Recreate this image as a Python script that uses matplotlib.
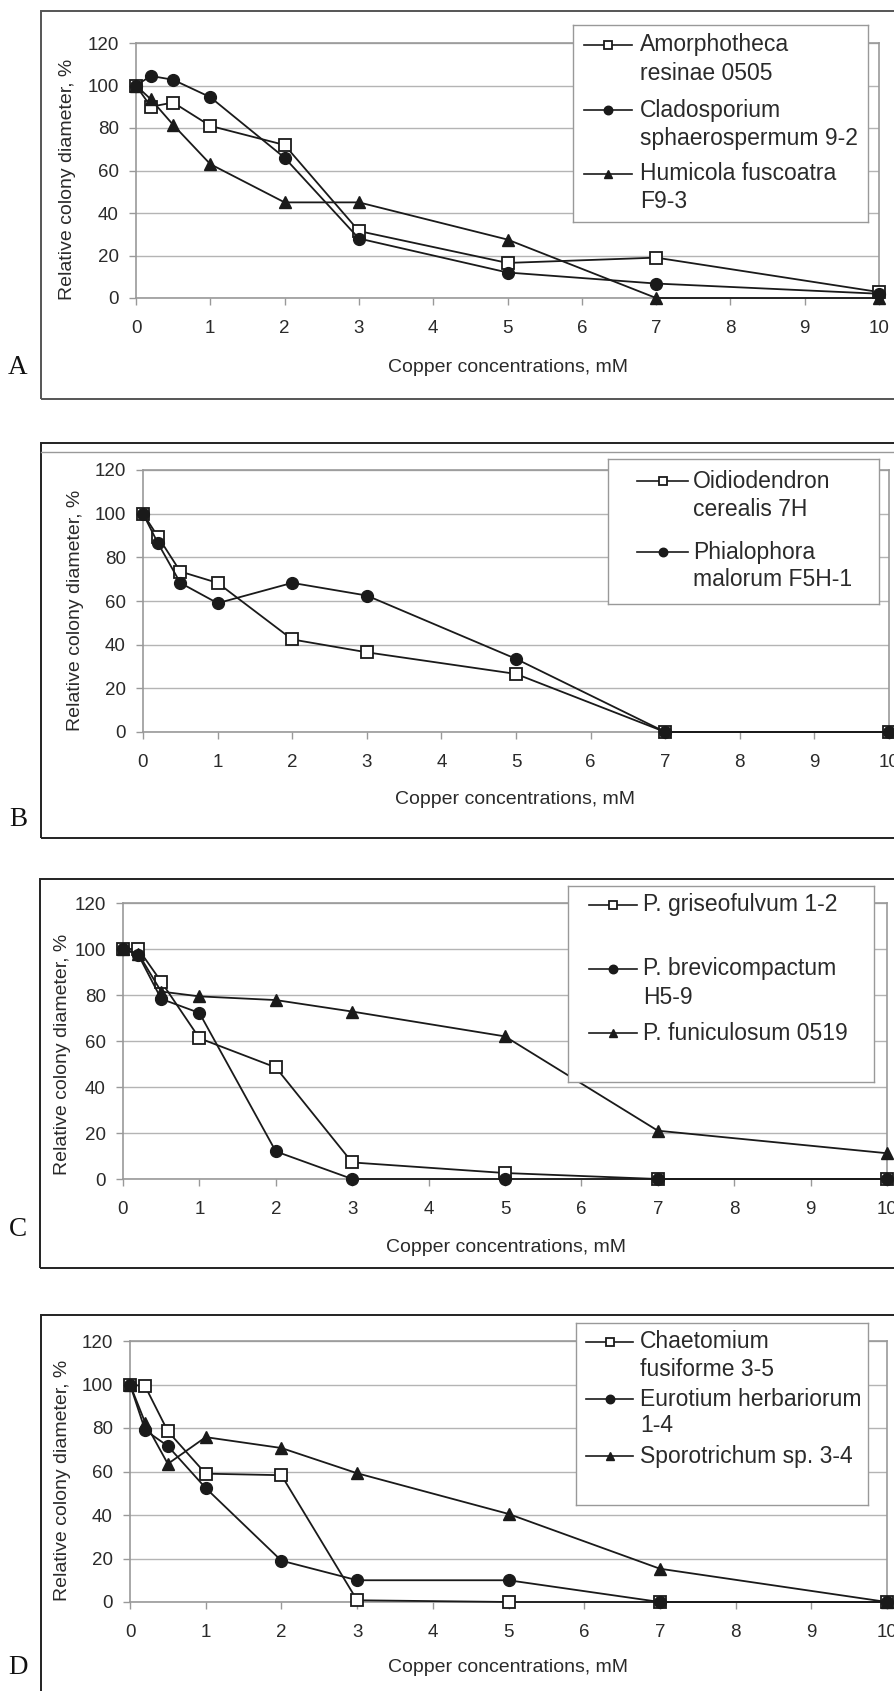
import numpy as np
import matplotlib
matplotlib.use("Agg")
import matplotlib.pyplot as plt
from matplotlib.patches import Rectangle
from matplotlib.lines import Line2D

plt.rcParams['font.family'] = ['Liberation Sans', 'DejaVu Sans']

# copper concentration, mM (same for every panel)
conc = [0, 0.2, 0.5, 1, 2, 3, 5, 7, 10]

# panel A
amorphotheca = [100, 90, 92, 81, 72, 31.5, 16.5, 19, 2.8]
cladosporium = [100, 104.5, 102.7, 94.5, 66, 28, 12, 6.8, 2]
humicola = [100, 93.5, 81.5, 63, 45, 45, 27.5, 0, 0]

# panel B
oidiodendron = [100, 89.5, 73.5, 68.3, 42.4, 36.5, 26.6, 0, 0]
phialophora = [100, 86.5, 68.3, 59, 68.3, 62.5, 33.5, 0, 0]

# panel C
griseofulvum = [100, 100, 85.8, 61.2, 48.5, 7.2, 2.6, 0, 0]
brevicompactum = [100, 97.5, 78.3, 72.2, 12, 0, 0, 0, 0]
funiculosum = [100, 98, 81.5, 79.4, 77.8, 72.8, 62, 21, 11.2]

# panel D
chaetomium = [100, 99.2, 78.5, 59, 58.3, 0.8, 0, 0, 0]
eurotium = [100, 79, 71.7, 52.4, 19, 10, 10, 0, 0]
sporotrichum = [100, 82.5, 63.5, 75.8, 70.8, 59.2, 40.5, 15.3, 0]

xticks = list(range(0, 11))
yticks = list(range(0, 121, 20))
xlabel = "Copper concentrations, mM"
ylabel = "Relative colony diameter, %"

W, H = 894, 1691
fig = plt.figure(figsize=(W / 100, H / 100), dpi=100)

LC = '#1a1a1a'
styles = {
    's': dict(marker='s', ms=8, mfc='white', mec=LC, mew=1.3),
    'o': dict(marker='o', ms=8.5, mfc=LC, mec=LC, mew=1),
    '^': dict(marker='^', ms=8.5, mfc=LC, mec=LC, mew=1),
}

panels = [
    dict(letter='A', frame=(41, 11, 399), ax=(136, 43, 879, 298),
         leg=(573, 25, 868, 222), hl=(11, 59, 67), rows=[20, 85, 149], dy=28,
         ylab=(68, 179), xlab=(508, 367), let=(18, 368), fc='#555555',
         series=[(amorphotheca, 's', ["Amorphotheca", "resinae 0505"]),
                 (cladosporium, 'o', ["Cladosporium", "sphaerospermum 9-2"]),
                 (humicola, '^', ["Humicola fuscoatra", "F9-3"])]),
    dict(letter='B', frame=(41, 443, 838), ax=(143, 470, 889, 732),
         leg=(608, 459, 879, 604), hl=(29, 80, 85), rows=[22, 93], dy=28,
         ylab=(75, 610), xlab=(515, 800), let=(18, 820), fc='#222222',
         series=[(oidiodendron, 's', ["Oidiodendron", "cerealis 7H"]),
                 (phialophora, 'o', ["Phialophora", "malorum F5H-1"])]),
    dict(letter='C', frame=(40, 879, 1268), ax=(123, 903, 887, 1179),
         leg=(568, 886, 874, 1082), hl=(21, 69, 75), rows=[19, 83, 147], dy=29,
         ylab=(63, 1054), xlab=(506, 1247), let=(18, 1230), fc='#222222',
         series=[(griseofulvum, 's', ["P. griseofulvum 1-2"]),
                 (brevicompactum, 'o', ["P. brevicompactum", "H5-9"]),
                 (funiculosum, '^', ["P. funiculosum 0519"])]),
    dict(letter='D', frame=(41, 1315, 1720), ax=(130, 1341, 887, 1602),
         leg=(576, 1323, 868, 1505), hl=(10, 57, 64), rows=[19, 76, 133], dy=27,
         ylab=(63, 1480), xlab=(508, 1668), let=(18, 1668), fc='#222222',
         series=[(chaetomium, 's', ["Chaetomium", "fusiforme 3-5"]),
                 (eurotium, 'o', ["Eurotium herbariorum", "1-4"]),
                 (sporotrichum, '^', ["Sporotrichum sp. 3-4"])]),
]


def fbox(x0, y0, x1, y1):
    return [x0 / W, 1 - y1 / H, (x1 - x0) / W, (y1 - y0) / H]


for p in panels:
    fx, ftop, fbot = p['frame']
    fig.add_artist(Rectangle((fx / W, 1 - fbot / H), (960 - fx) / W, (fbot - ftop) / H,
                             transform=fig.transFigure, fill=False,
                             ec=p['fc'], lw=1.4, clip_on=False))
    if p['letter'] == 'B':
        fig.add_artist(Line2D([fx / W, 1], [1 - 452 / H, 1 - 452 / H],
                              transform=fig.transFigure, color='#999999', lw=1))

    ax = fig.add_axes(fbox(*p['ax']))
    for vals, m, lab in p['series']:
        ax.plot(conc, vals, color=LC, lw=1.3, clip_on=False, zorder=3, **styles[m])
    ax.set_xlim(0, 10)
    ax.set_ylim(0, 120)
    ax.set_xticks(xticks)
    ax.set_yticks(yticks)
    ax.grid(axis='y', color='#b4b4b4', lw=1.0)
    ax.set_axisbelow(True)
    for s in ax.spines.values():
        s.set_color('#999999')
        s.set_linewidth(1.2)
    ax.tick_params(axis='x', direction='out', length=5, width=1, color='#999999',
                   pad=11, labelsize=13.5, labelcolor='#2a2a2a')
    ax.tick_params(axis='y', direction='out', length=5, width=1, color='#999999',
                   pad=7.5, labelsize=13.5, labelcolor='#2a2a2a')

    fig.text(p['ylab'][0] / W, 1 - p['ylab'][1] / H, ylabel, rotation=90,
             ha='center', va='center', fontsize=14, color='#2a2a2a')
    fig.text(p['xlab'][0] / W, 1 - p['xlab'][1] / H, xlabel,
             ha='center', va='center', fontsize=14, color='#2a2a2a')
    fig.text(p['let'][0] / W, 1 - p['let'][1] / H, p['letter'],
             ha='center', va='center', fontsize=19.5, family='Liberation Serif',
             color='#111111')

    # legend box drawn by hand, Excel style
    lx0, ly0, lx1, ly1 = p['leg']
    lax = fig.add_axes(fbox(*p['leg']), zorder=10)
    lax.set_xlim(0, lx1 - lx0)
    lax.set_ylim(ly1 - ly0, 0)
    lax.set_xticks([])
    lax.set_yticks([])
    for s in lax.spines.values():
        s.set_color('#999999')
        s.set_linewidth(1.0)
    h0, h1, tx = p['hl']
    for (vals, m, lab), ry in zip(p['series'], p['rows']):
        st = dict(styles[m])
        st['ms'] = st['ms'] * 0.72
        lax.plot([h0, h1], [ry, ry], color=LC, lw=1.2)
        lax.plot([(h0 + h1) / 2], [ry], color=LC, **st)
        for k, line in enumerate(lab):
            lax.text(tx, ry + k * p['dy'], line, ha='left', va='center',
                     fontsize=16.5, color='#2a2a2a')

fig.savefig('out.png', dpi=100)
